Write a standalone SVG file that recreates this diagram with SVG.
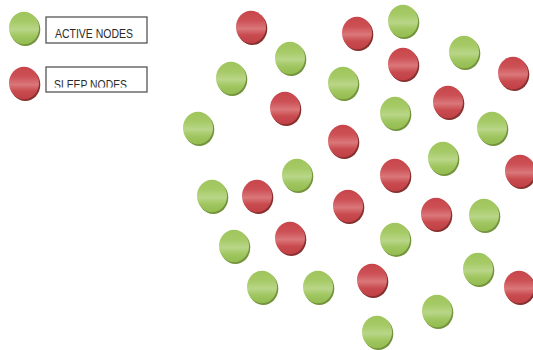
<svg xmlns="http://www.w3.org/2000/svg" xmlns:xlink="http://www.w3.org/1999/xlink" width="533" height="350" viewBox="0 0 533 350">
<style>
.box{fill:#fff;stroke:#555;stroke-width:1.3}
.lbl{font-family:"Liberation Sans",Arial,sans-serif;font-size:13px;fill:#2a2a2a}
</style>
<defs>
<linearGradient id="gG" x1="0" y1="0" x2="0" y2="1">
<stop offset="0" stop-color="#9fc55d"/>
<stop offset="0.3" stop-color="#a6ca66"/>
<stop offset="0.55" stop-color="#b9d688"/>
<stop offset="0.75" stop-color="#a0c660"/>
<stop offset="1" stop-color="#93bc50"/>
</linearGradient>
<linearGradient id="gR" x1="0" y1="0" x2="0" y2="1">
<stop offset="0" stop-color="#c7454a"/>
<stop offset="0.3" stop-color="#cc5055"/>
<stop offset="0.55" stop-color="#da7779"/>
<stop offset="0.75" stop-color="#c94b4f"/>
<stop offset="1" stop-color="#c04045"/>
</linearGradient>
<g id="green">
<ellipse cx="1.3" cy="1.6" rx="15" ry="16.3" fill="#74933d"/>
<ellipse cx="0" cy="0" rx="15" ry="16.3" fill="url(#gG)"/>
</g>
<g id="red">
<ellipse cx="1.3" cy="1.6" rx="15" ry="16.3" fill="#86302f"/>
<ellipse cx="0" cy="0" rx="15" ry="16.3" fill="url(#gR)"/>
</g>
<clipPath id="clip2"><rect x="46" y="67" width="101" height="20.5"/></clipPath>
</defs>
<g id="legend">
<g id="legend-active">
<use href="#green" x="24" y="28"/>
<rect class="box" x="46" y="17" width="101" height="26"/>
<text class="lbl" x="55" y="37.8" textLength="78" lengthAdjust="spacingAndGlyphs">ACTIVE NODES</text>
</g>
<g id="legend-sleep">
<use href="#red" x="24" y="83"/>
<rect class="box" x="46" y="67" width="101" height="25"/>
<text class="lbl" x="54" y="88.8" textLength="73" lengthAdjust="spacingAndGlyphs" clip-path="url(#clip2)">SLEEP NODES</text>
</g>
</g>
<g id="connectors"/>
<g id="nodes">
<g id="n1"><use href="#red" x="251" y="27"/></g>
<g id="n2"><use href="#red" x="357" y="33"/></g>
<g id="n3"><use href="#green" x="403" y="21"/></g>
<g id="n4"><use href="#green" x="290" y="58"/></g>
<g id="n5"><use href="#red" x="403" y="64"/></g>
<g id="n6"><use href="#green" x="464" y="52"/></g>
<g id="n7"><use href="#red" x="513" y="73"/></g>
<g id="n8"><use href="#green" x="231" y="78"/></g>
<g id="n9"><use href="#green" x="343" y="83"/></g>
<g id="n10"><use href="#red" x="285" y="108"/></g>
<g id="n11"><use href="#red" x="448" y="102"/></g>
<g id="n12"><use href="#green" x="198" y="128"/></g>
<g id="n13"><use href="#green" x="395" y="113"/></g>
<g id="n14"><use href="#green" x="492" y="128"/></g>
<g id="n15"><use href="#red" x="343" y="141"/></g>
<g id="n16"><use href="#green" x="443" y="158"/></g>
<g id="n17"><use href="#red" x="520" y="171"/></g>
<g id="n18"><use href="#green" x="297" y="175"/></g>
<g id="n19"><use href="#red" x="395" y="175"/></g>
<g id="n20"><use href="#green" x="212" y="196"/></g>
<g id="n21"><use href="#red" x="257" y="196"/></g>
<g id="n22"><use href="#red" x="348" y="206"/></g>
<g id="n23"><use href="#red" x="436" y="214"/></g>
<g id="n24"><use href="#green" x="484" y="215"/></g>
<g id="n25"><use href="#green" x="234" y="246"/></g>
<g id="n26"><use href="#red" x="290" y="238"/></g>
<g id="n27"><use href="#green" x="395" y="239"/></g>
<g id="n28"><use href="#green" x="478" y="269"/></g>
<g id="n29"><use href="#red" x="372" y="280"/></g>
<g id="n30"><use href="#green" x="262" y="287"/></g>
<g id="n31"><use href="#green" x="318" y="287"/></g>
<g id="n32"><use href="#red" x="519" y="287"/></g>
<g id="n33"><use href="#green" x="437" y="311"/></g>
<g id="n34"><use href="#green" x="377" y="332"/></g>
</g>
</svg>
